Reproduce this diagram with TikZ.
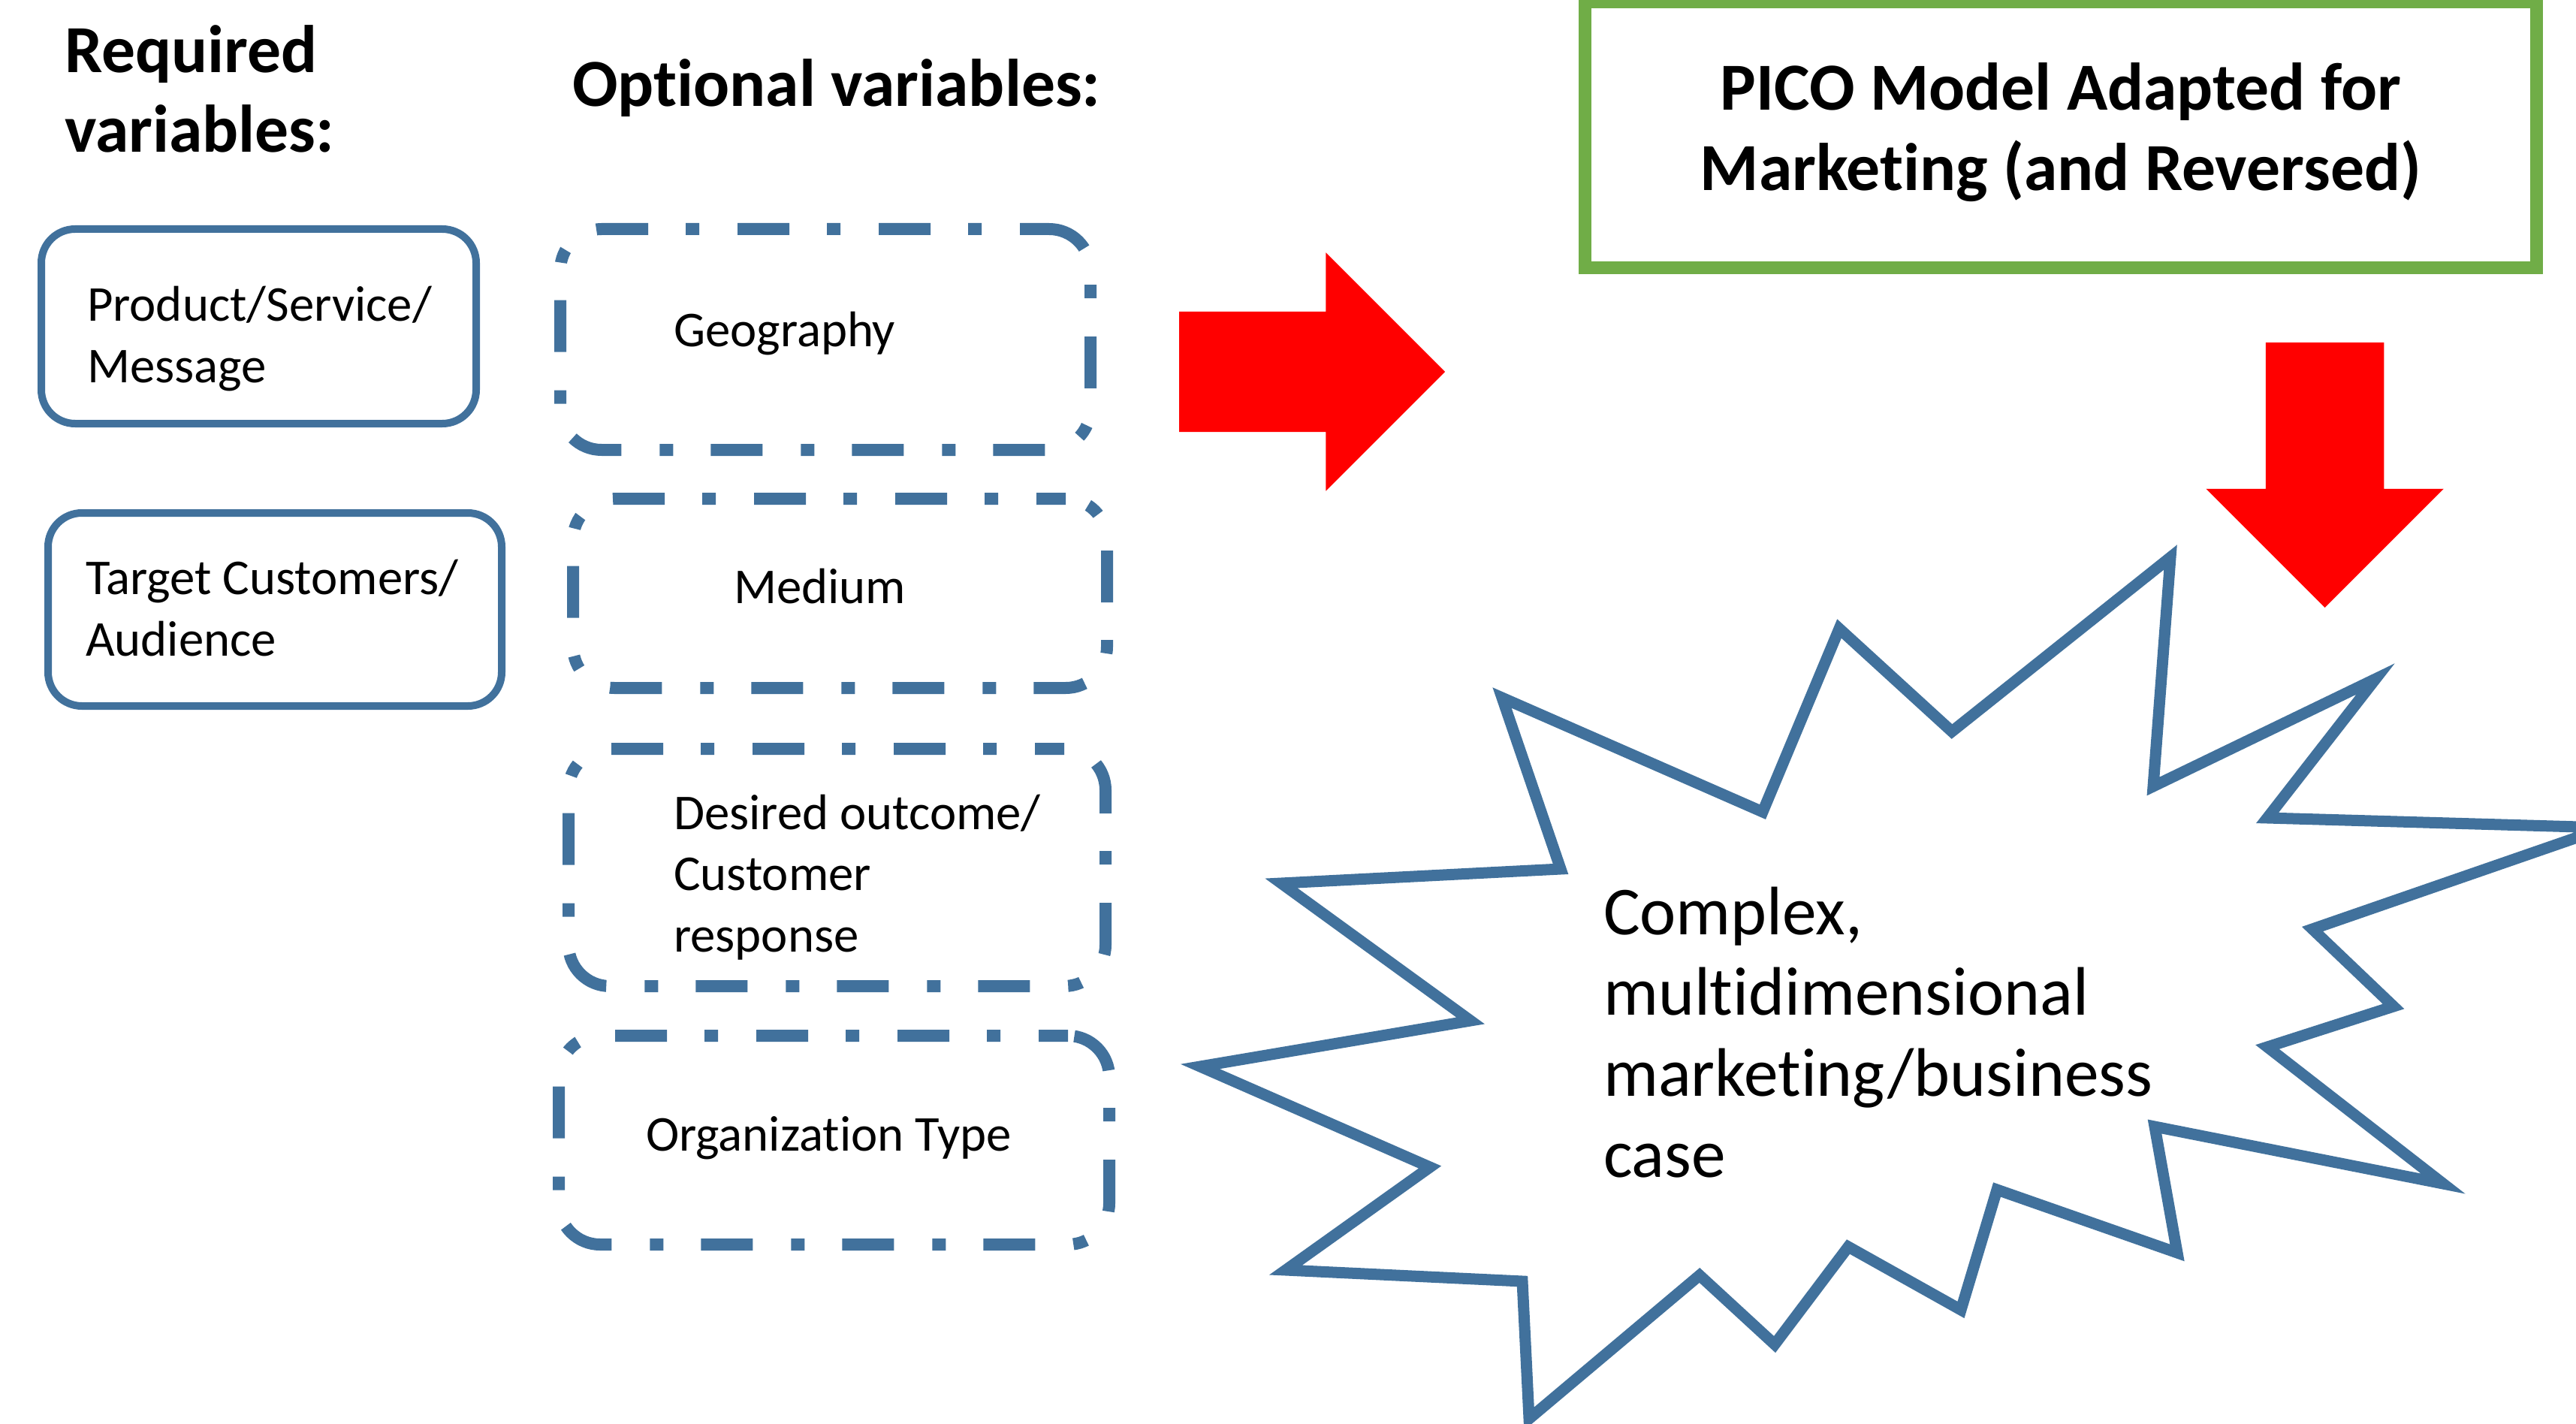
\documentclass[tikz,border=0pt]{standalone}
\usepackage{fontspec}
\setmainfont{Carlito}[Ligatures=NoCommon]
\usetikzlibrary{shapes.arrows}

\definecolor{varblue}{HTML}{41719C}
\definecolor{picogreen}{HTML}{70AD47}

\begin{document}
\begin{tikzpicture}[x=1cm,y=1cm,
every node/.style={
rectangle,
anchor=south west,
outer sep=0pt,
inner sep=0pt,
},
reqbox/.style={
draw=varblue,
line width=0.1cm,
rounded corners=0.45cm,
},
optbox/.style={
draw=varblue,
line width=0.16cm,
rounded corners=0.55cm,
dash pattern=on 0.69cm off 0.51cm on 0.18cm off 0.50cm,
dash phase=0.3cm,
},
boxtext/.style={
anchor=base west,
align=left,
font=\fontsize{19}{23.1}\selectfont,
},
heading/.style={
anchor=base west,
align=left,
font=\fontsize{25.5}{30.3}\selectfont\bfseries,
},
redarrow/.style={
single arrow,
fill=red,
anchor=tip,
single arrow head indent=0pt,
}]

\useasboundingbox (0,0) rectangle (34.30,18.95);
\clip (0,0) rectangle (34.30,18.95);

%Headings (base = last line)
\node[heading] (reqhead) at (0.86,16.92) {Required\\variables:};
\node[heading] (opthead) at (7.62,17.53) {Optional variables:};

%Required variables
\node[reqbox,minimum width=5.79cm,minimum height=2.59cm] (prodbox) at (0.55,13.31) {};
\node[boxtext] (prodtext) at (1.16,13.86) {Product/Service/\\Message};
\node[reqbox,minimum width=6.04cm,minimum height=2.57cm] (custbox) at (0.64,9.55) {};
\node[boxtext] (custtext) at (1.14,10.22) {Target Customers/\\Audience};

%Optional variables
\node[optbox,minimum width=7.06cm,minimum height=2.94cm] (geobox) at (7.46,12.96) {};
\node[boxtext] (geotext) at (8.97,14.34) {Geography};
\node[optbox,minimum width=7.11cm,minimum height=2.52cm] (medbox) at (7.63,9.79) {};
\node[boxtext] (medtext) at (9.77,10.92) {Medium};
\node[optbox,minimum width=7.15cm,minimum height=3.16cm] (outbox) at (7.57,5.82) {};
\node[boxtext] (outtext) at (8.97,6.28) {Desired outcome/\\Customer\\response};
\node[optbox,minimum width=7.33cm,minimum height=2.78cm] (orgbox) at (7.44,2.38) {};
\node[boxtext] (orgtext) at (8.60,3.63) {Organization Type};

%PICO box
\node[draw=picogreen,line width=0.17cm,minimum width=12.675cm,minimum height=3.54cm] (picobox) at (21.10,15.385) {};
\node[anchor=base,align=center,font=\fontsize{25.5}{30.6}\selectfont\bfseries] (picotext) at (27.44,16.41) {PICO Model Adapted for\\Marketing (and Reversed)};

%Arrows (placed by their tips)
\node[redarrow,inner sep=0.795cm,minimum height=3.54cm,minimum width=3.16cm,single arrow head extend=0.785cm] (rightarrow) at (19.24,14.00) {};
\node[redarrow,inner sep=0.78cm,shape border rotate=270,minimum height=3.53cm,minimum width=3.15cm,single arrow head extend=0.795cm] (downarrow) at (30.955,10.86) {};

%Business case burst
\draw[draw=varblue,line width=0.15cm,line join=miter,miter limit=20]
(28.90,11.53) -- (28.67,8.48) -- (31.63,9.91) -- (30.19,8.06) -- (34.69,7.93)
-- (30.79,6.58) -- (31.87,5.55) -- (30.19,5.01) -- (32.53,3.19) -- (28.69,3.95)
-- (28.99,2.27) -- (26.59,3.11) -- (26.11,1.51) -- (24.61,2.35) -- (23.63,1.05)
-- (22.63,1.97) -- (20.36,0.06) -- (20.27,1.89) -- (17.12,2.04) -- (19.04,3.41)
-- (15.98,4.75) -- (19.58,5.36) -- (17.06,7.19) -- (20.78,7.38) -- (20.00,9.66)
-- (23.47,8.14) -- (24.49,10.58) -- (25.99,9.21) -- cycle;
\node[anchor=base west,align=left,font=\fontsize{26}{30.6}\selectfont] (casetext) at (21.35,3.28) {Complex,\\multidimensional\\marketing/business\\case};
\end{tikzpicture}
\end{document}
